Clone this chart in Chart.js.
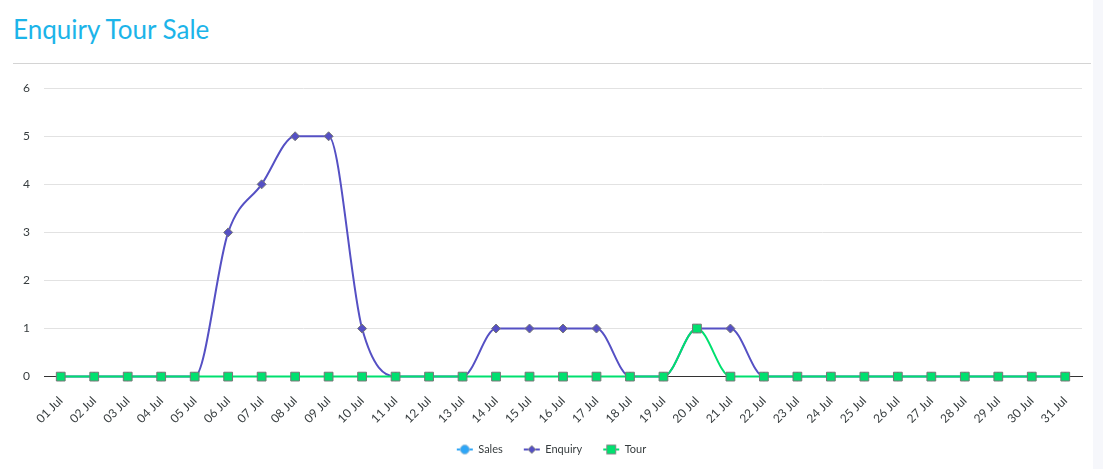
<!DOCTYPE html>
<html>
<head>
<meta charset="utf-8">
<script src="https://cdn.jsdelivr.net/npm/chart.js@4"></script>
<style>
  html, body { margin: 0; padding: 0; background: #fff; }
  body { width: 1103px; height: 469px; position: relative; overflow: hidden; font-family: Lato, sans-serif; }
  .side { position: absolute; left: 1093px; top: 0; width: 10px; height: 469px; background: #f6f7fb; }
  h2 { position: absolute; left: 13px; top: 13px; margin: 0; font-family: Lato, sans-serif; font-weight: 400; font-size: 26px; color: #1cb4e9; }
  .sep { position: absolute; left: 13px; top: 63px; width: 1078px; height: 1px; background: #d4d4d4; }
  .wrap { position: absolute; left: 0; top: 67px; width: 1103px; height: 402px; }
</style>
</head>
<body>
<div class="side"></div>
<h2>Enquiry Tour Sale</h2>
<div class="sep"></div>
<div class="wrap"><canvas id="chart"></canvas></div>
<script>
// Days of July
const days = ["01 Jul", "02 Jul", "03 Jul", "04 Jul", "05 Jul", "06 Jul", "07 Jul", "08 Jul", "09 Jul", "10 Jul",
    "11 Jul", "12 Jul", "13 Jul", "14 Jul", "15 Jul", "16 Jul", "17 Jul", "18 Jul", "19 Jul", "20 Jul",
    "21 Jul", "22 Jul", "23 Jul", "24 Jul", "25 Jul", "26 Jul", "27 Jul", "28 Jul", "29 Jul", "30 Jul", "31 Jul"];

const sales   = [0, 0, 0, 0, 0, 0, 0, 0, 0, 0, 0, 0, 0, 0, 0, 0, 0, 0, 0, 0, 0, 0, 0, 0, 0, 0, 0, 0, 0, 0, 0];
const enquiry = [0, 0, 0, 0, 0, 3, 4, 5, 5, 1, 0, 0, 0, 1, 1, 1, 1, 0, 0, 1, 1, 0, 0, 0, 0, 0, 0, 0, 0, 0, 0];
const tour    = [0, 0, 0, 0, 0, 0, 0, 0, 0, 0, 0, 0, 0, 0, 0, 0, 0, 0, 0, 1, 0, 0, 0, 0, 0, 0, 0, 0, 0, 0, 0];

const yTicks = [0, 1, 2, 3, 4, 5, 6];

const SALES_COLOR = "#2ea6f7";
const ENQUIRY_COLOR = "#5550c4";
const TOUR_COLOR = "#00e06f";
const TEXT_COLOR = "#373d3f";

// legend marker: short line with the point shape on top
function legendIcon(color, shape) {
    const c = document.createElement("canvas");
    c.width = 18;
    c.height = 12;
    const ctx = c.getContext("2d");
    ctx.strokeStyle = color;
    ctx.lineWidth = 2;
    ctx.beginPath();
    ctx.moveTo(1, 6);
    ctx.lineTo(17, 6);
    ctx.stroke();
    ctx.fillStyle = color;
    ctx.beginPath();
    if (shape === "circle") {
        ctx.arc(9, 6, 4.5, 0, Math.PI * 2);
    } else if (shape === "diamond") {
        ctx.moveTo(9, 2);
        ctx.lineTo(13, 6);
        ctx.lineTo(9, 10);
        ctx.lineTo(5, 6);
        ctx.closePath();
    } else {
        ctx.rect(4.5, 1.5, 9, 9);
    }
    ctx.fill();
    ctx.strokeStyle = shape === "circle" ? "#8fb8d6" : "#8a8a8a";
    ctx.lineWidth = 1;
    ctx.stroke();
    return c;
}

const ctx = document.getElementById("chart");

new Chart(ctx, {
    type: "line",
    data: {
        labels: days,
        datasets: [
            {
                label: "Sales",
                data: sales,
                hidden: true, // listed in the legend but not visible in the plot
                borderColor: SALES_COLOR,
                backgroundColor: SALES_COLOR,
                borderWidth: 2,
                pointStyle: "circle",
                pointRadius: 4,
                pointBorderColor: "#888",
                pointBorderWidth: 1,
                cubicInterpolationMode: "monotone",
                clip: false,
                order: 3
            },
            {
                label: "Enquiry",
                data: enquiry,
                borderColor: ENQUIRY_COLOR,
                backgroundColor: ENQUIRY_COLOR,
                borderWidth: 2,
                pointStyle: "rectRot",
                pointRadius: 4.5,
                pointBorderColor: "#777",
                pointBorderWidth: 1,
                cubicInterpolationMode: "monotone",
                clip: false,
                order: 2
            },
            {
                label: "Tour",
                data: tour,
                borderColor: TOUR_COLOR,
                backgroundColor: TOUR_COLOR,
                borderWidth: 2,
                pointStyle: "rect",
                pointRadius: 6.2,
                pointBorderColor: "#777",
                pointBorderWidth: 1,
                cubicInterpolationMode: "monotone",
                clip: false,
                order: 1
            }
        ]
    },
    options: {
        responsive: true,
        maintainAspectRatio: false,
        animation: false,
        layout: { padding: { top: 0, right: 21, bottom: 4, left: 21 } },
        plugins: {
            tooltip: { enabled: false },
            legend: {
                position: "bottom",
                onClick: null,
                labels: {
                    usePointStyle: true,
                    pointStyleWidth: 16,
                    padding: 21,
                    color: TEXT_COLOR,
                    font: { family: "Lato, sans-serif", size: 11 },
                    generateLabels: function(chart) {
                        const shapes = ["circle", "diamond", "square"];
                        return chart.data.datasets.map((ds, i) => ({
                            text: ds.label,
                            pointStyle: legendIcon(ds.borderColor, shapes[i]),
                            fontColor: TEXT_COLOR,
                            hidden: false,
                            datasetIndex: i,
                            lineWidth: 0,
                            strokeStyle: "transparent",
                            fillStyle: "transparent"
                        }));
                    }
                }
            }
        },
        scales: {
            x: {
                offset: true,
                afterFit: function(scale) { scale.height -= 20; },
                grid: { display: false, drawTicks: false },
                border: { display: true, color: "#333", width: 1 },
                ticks: {
                    color: TEXT_COLOR,
                    font: { family: "Lato, sans-serif", size: 12 },
                    minRotation: 45,
                    maxRotation: 45,
                    autoSkip: false,
                    padding: 17
                }
            },
            y: {
                min: 0,
                max: 6,
                afterFit: function(scale) { scale.width = 23; },
                afterBuildTicks: function(scale) {
                    scale.ticks = yTicks.map(v => ({ value: v }));
                },
                grid: { color: "#e2e2e2", drawTicks: false },
                border: { display: false },
                ticks: {
                    color: TEXT_COLOR,
                    font: { family: "Lato, sans-serif", size: 12 },
                    padding: 14
                }
            }
        }
    }
});
</script>
</body>
</html>
